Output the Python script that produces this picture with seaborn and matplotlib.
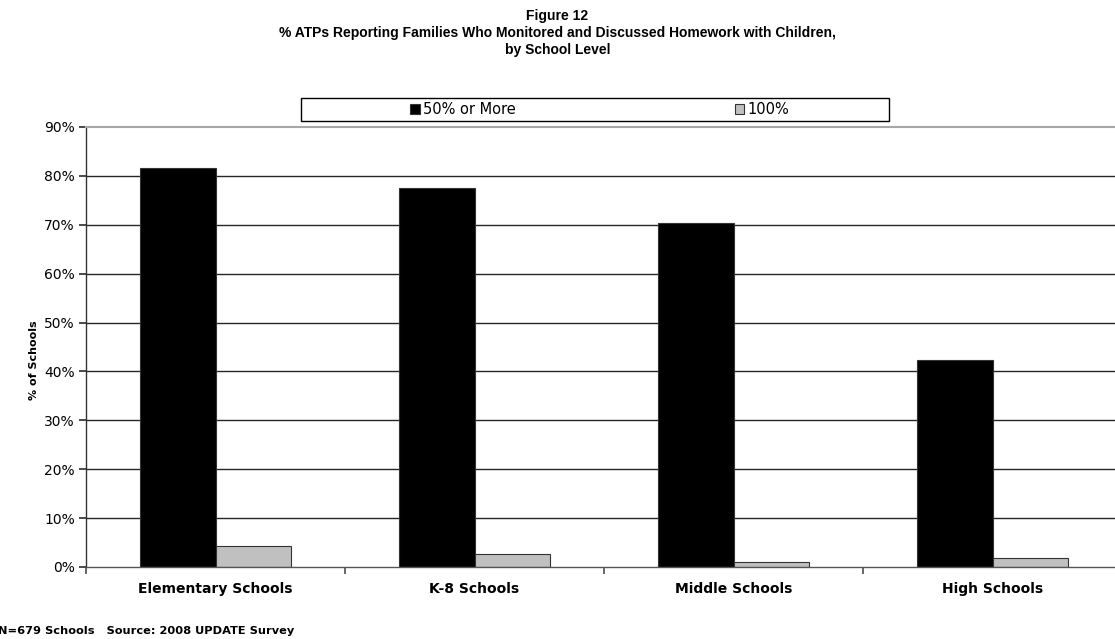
import matplotlib
matplotlib.use("Agg")
import matplotlib.pyplot as plt
import matplotlib.patches as mpatches
from matplotlib.ticker import PercentFormatter
import seaborn as sns
import pandas as pd

# Survey results by school level
levels = ["Elementary Schools", "K-8 Schools", "Middle Schools", "High Schools"]
pct_50_or_more = [81.6, 77.5, 70.3, 42.4]
pct_100 = [4.2, 2.6, 1.1, 1.8]
series_names = ["50% or More", "100%"]

df = pd.DataFrame({
    "Level": levels * 2,
    "Series": [series_names[0]] * len(levels) + [series_names[1]] * len(levels),
    "Percent": pct_50_or_more + pct_100,
})

sns.set_theme(style="white")
plt.rcParams["font.family"] = ["DejaVu Sans"]
plt.rcParams["text.color"] = "black"
plt.rcParams["axes.labelcolor"] = "black"
plt.rcParams["xtick.color"] = "black"
plt.rcParams["ytick.color"] = "black"

W, H = 1115, 639
fig = plt.figure(figsize=(W / 100, H / 100), dpi=100)

# plot area (pixel geometry converted to figure fractions)
left_px, right_px, top_px, bottom_px = 86, 1122, 127, 567
ax = fig.add_axes([left_px / W, 1 - bottom_px / H,
                   (right_px - left_px) / W, (bottom_px - top_px) / H])

sns.barplot(data=df, x="Level", y="Percent", hue="Series",
            palette=["#000000", "#c0c0c0"], width=0.58, gap=0,
            edgecolor="#333333", linewidth=0.8, saturation=1,
            ax=ax, legend=True)

handles, labels = ax.get_legend_handles_labels()
ax.get_legend().remove()

ax.set_xlim(-0.5, 3.5)
ax.set_ylim(0, 90)
ax.set_yticks(range(0, 91, 10))
ax.yaxis.set_major_formatter(PercentFormatter(decimals=0))

# gridlines for the inner ticks
for v in range(10, 90, 10):
    ax.axhline(v, color="#262626", lw=1.0, zorder=0)

ax.spines["right"].set_visible(False)
ax.spines["top"].set_color("#a6a6a6")
ax.spines["top"].set_linewidth(1.5)
ax.spines["left"].set_color("#333333")
ax.spines["bottom"].set_color("#555555")
ax.spines["left"].set_linewidth(1.0)
ax.spines["bottom"].set_linewidth(1.0)

# category boundaries as tick marks, labels centred on categories
ax.set_xticks([-0.5, 0.5, 1.5, 2.5, 3.5])
ax.set_xticklabels([])
ax.set_xticks(range(len(levels)), minor=True)
ax.set_xticklabels(levels, minor=True, fontsize=10, fontweight="bold")
ax.tick_params(axis="x", which="major", direction="out", length=5,
               color="#555555", bottom=True)
ax.tick_params(axis="x", which="minor", length=0, pad=11)
ax.tick_params(axis="y", direction="out", length=5, color="#333333",
               left=True, labelsize=10, pad=3)

ax.set_xlabel("")
ax.set_ylabel("% of Schools", fontsize=8, fontweight="bold")
ax.yaxis.set_label_coords(-0.045, 0.47)

# title block
title_font = dict(ha="center", va="center", fontsize=10, fontweight="bold",
                  family=["Liberation Sans", "DejaVu Sans"])
fig.text(0.5, 1 - 16 / H, "Figure 12", **title_font)
fig.text(0.5, 1 - 33 / H,
         "% ATPs Reporting Families Who Monitored and Discussed Homework with Children,",
         **title_font)
fig.text(0.5, 1 - 50 / H, "by School Level", **title_font)

# legend frame with two entries spread across it
lx0, lx1, ly0, ly1 = 301, 889, 98, 121
frame = mpatches.Rectangle((lx0 / W, 1 - ly1 / H), (lx1 - lx0) / W,
                           (ly1 - ly0) / H, transform=fig.transFigure,
                           facecolor="white", edgecolor="black", lw=1.0)
fig.patches.append(frame)
for h, lab, cx in zip(handles, labels, [463, 762]):
    fig.legend([h], [lab], loc="center", bbox_to_anchor=(cx / W, 1 - 109.5 / H),
               frameon=False, fontsize=10.5, handlelength=0.65, handleheight=0.65,
               handletextpad=0.25, borderpad=0, borderaxespad=0)

fig.text(-2 / W, 1 - 631 / H, "N=679 Schools   Source: 2008 UPDATE Survey",
         ha="left", va="center", fontsize=8.2, fontweight="bold")

fig.savefig("out.png", dpi=100)
